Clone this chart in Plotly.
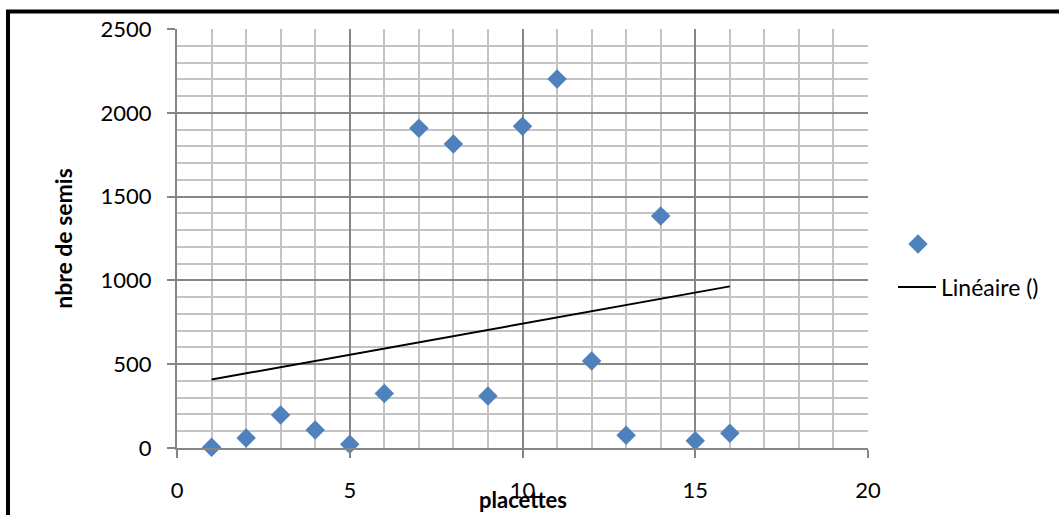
import numpy as np
import plotly.graph_objects as go

placettes = [1, 2, 3, 4, 5, 6, 7, 8, 9, 10, 11, 12, 13, 14, 15, 16]
semis = [5, 60, 197, 107, 22, 325, 1908, 1814, 310, 1920, 2202, 519, 76, 1384, 44, 88]

x_ticks = [0, 5, 10, 15, 20]
y_ticks = [0, 500, 1000, 1500, 2000, 2500]

# linear trend (least squares) as in the spreadsheet
slope, intercept = np.polyfit(placettes, semis, 1)
trend_x = [placettes[0], placettes[-1]]
trend_y = [slope * v + intercept for v in trend_x]

FONT = "Lato"
W, H = 1059, 515
L, R, T, B = 177, 868, 29, 448

def px(xp):
    return (xp - L) / (R - L)

def py(yp):
    return (B - yp) / (B - T)

fig = go.Figure()
fig.add_trace(go.Scatter(
    x=placettes, y=semis, mode="markers", name="",
    marker=dict(symbol="diamond", size=15, color="#4F81BD"),
    legend="legend", cliponaxis=False,
))
fig.add_trace(go.Scatter(
    x=trend_x, y=trend_y, mode="lines", name="Linéaire ()",
    line=dict(color="black", width=2),
    legend="legend2",
))

major = "#868686"
minor = "#c3c3c3"

fig.update_layout(
    width=W, height=H,
    margin=dict(l=L, r=W - R, t=T, b=H - B, autoexpand=False),
    paper_bgcolor="white", plot_bgcolor="white",
    font=dict(family=FONT, size=22, color="black"),
    xaxis=dict(
        range=[0, 20], tickvals=x_ticks, ticktext=[str(v) for v in x_ticks],
        showgrid=True, gridcolor=major, gridwidth=1.5,
        minor=dict(dtick=1, showgrid=True, gridcolor=minor, gridwidth=2, ticks=""),
        showline=True, linecolor=major, linewidth=2,
        ticks="outside", ticklen=8, tickcolor=major, tickwidth=1.5,
        ticklabelstandoff=14, zeroline=False, fixedrange=True, automargin=False,
        tickfont=dict(size=22),
    ),
    yaxis=dict(
        range=[0, 2500], tickvals=y_ticks, ticktext=[str(v) for v in y_ticks],
        showgrid=True, gridcolor=major, gridwidth=1.5,
        minor=dict(dtick=100, showgrid=True, gridcolor=minor, gridwidth=2, ticks=""),
        showline=True, linecolor=major, linewidth=2,
        ticks="outside", ticklen=8, tickcolor=major, tickwidth=1.5,
        ticklabelstandoff=11, zeroline=False, fixedrange=True, automargin=False,
        tickfont=dict(size=22),
        title=dict(text="<b>nbre de semis</b>", standoff=22, font=dict(size=23)),
    ),
    legend=dict(x=px(898), y=py(244), xanchor="left", yanchor="middle",
                bgcolor="rgba(0,0,0,0)", font=dict(size=23)),
    legend2=dict(x=px(893), y=py(287), xanchor="left", yanchor="middle",
                 bgcolor="rgba(0,0,0,0)", font=dict(size=23), itemwidth=38),
    showlegend=True,
    annotations=[dict(
        text="<b>placettes</b>", x=0.5, y=py(500), xref="paper", yref="paper",
        xanchor="center", yanchor="middle", showarrow=False, font=dict(size=22),
    )],
    shapes=[
        dict(type="line", xref="paper", yref="paper", x0=px(6), x1=px(1070),
             y0=py(11.5), y1=py(11.5), line=dict(color="black", width=4)),
        dict(type="line", xref="paper", yref="paper", x0=px(8), x1=px(8),
             y0=py(10), y1=py(530), line=dict(color="black", width=4)),
    ],
)

fig.write_html("out.html")
